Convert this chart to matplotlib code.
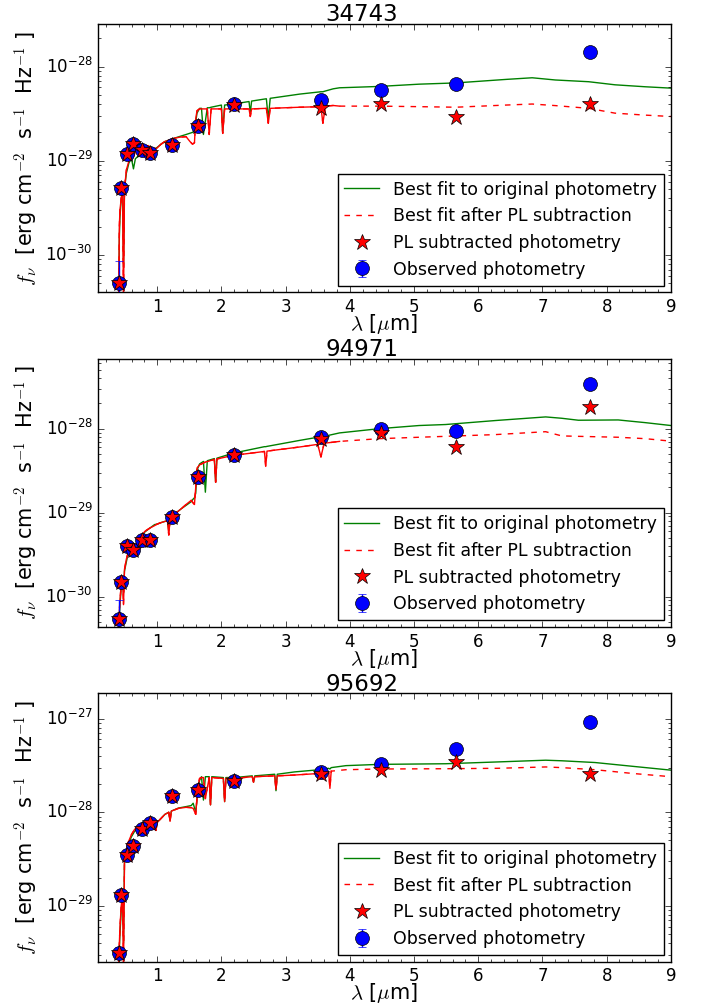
import matplotlib
matplotlib.use("Agg")
import matplotlib.pyplot as plt
import numpy as np
from matplotlib.ticker import MultipleLocator

# photometric band centres [micron]
phot_wl = [0.41, 0.44, 0.53, 0.62, 0.76, 0.89, 1.23, 1.63, 2.20, 3.55, 4.49, 5.66, 7.74]

# ---- 34743 ----
obs_34743 = [5.0e-31, 5.1e-30, 1.17e-29, 1.51e-29, 1.29e-29, 1.2e-29, 1.46e-29, 2.35e-29,
             4.0e-29, 4.4e-29, 5.6e-29, 6.5e-29, 1.41e-28]
err_34743 = [3.7e-31, 0, 0, 0, 0, 0, 0, 0, 0, 0, 0, 0, 0]
sub_34743 = [5.0e-31, 5.1e-30, 1.17e-29, 1.51e-29, 1.29e-29, 1.2e-29, 1.46e-29, 2.35e-29,
             3.9e-29, 3.6e-29, 4.0e-29, 2.9e-29, 4.0e-29]
wl_34743 = [0.38, 0.40, 0.41, 0.42, 0.44, 0.46, 0.475, 0.49, 0.52, 0.56, 0.60, 0.63, 0.66,
            0.72, 0.80, 0.86, 0.92, 0.99, 1.06, 1.12, 1.25, 1.35, 1.45, 1.51, 1.55, 1.58,
            1.60, 1.62, 1.66, 1.69, 1.72, 1.78, 1.81, 1.84, 2.00, 2.02, 2.05, 2.18, 2.43,
            2.45, 2.47, 2.70, 2.73, 2.76, 3.22, 3.55, 3.58, 3.62, 3.74, 3.84, 4.00, 4.46,
            5.08, 5.65, 6.43, 6.84, 7.20, 7.72, 8.13, 8.60, 9.0]
orig_34743 = [2e-31, 3e-31, 1.5e-30, 2.5e-30, 4e-30, 4.5e-30, 7.5e-31, 5e-30, 7.4e-30, 9.5e-30,
              1.05e-29, 8.2e-30, 1.05e-29, 1.15e-29, 1.22e-29, 1.26e-29, 1.3e-29, 1.37e-29,
              1.5e-29, 1.6e-29, 1.72e-29, 1.81e-29, 1.9e-29, 1.96e-29, 2.0e-29, 2.1e-29,
              2.6e-29, 3.2e-29, 3.6e-29, 3.6e-29, 1.9e-29, 3.65e-29, 3.65e-29, 3.7e-29,
              3.9e-29, 2.0e-29, 3.9e-29, 4.0e-29, 4.25e-29, 3.2e-29, 4.3e-29, 4.55e-29,
              2.8e-29, 4.6e-29, 5.1e-29, 5.4e-29, 5.4e-29, 5.5e-29, 5.8e-29, 5.95e-29,
              6.0e-29, 6.15e-29, 6.5e-29, 6.7e-29, 7.3e-29, 7.6e-29, 7.2e-29, 6.9e-29,
              6.4e-29, 6.1e-29, 5.9e-29]
plsub_34743 = [2e-31, 3e-31, 2.0e-30, 3e-30, 4e-30, 5e-30, 3e-31, 5e-30, 8e-30, 1.0e-29,
               1.2e-29, 1.1e-29, 1.25e-29, 1.3e-29, 1.4e-29, 1.45e-29, 1.35e-29, 1.35e-29,
               1.5e-29, 1.6e-29, 1.72e-29, 1.78e-29, 1.8e-29, 1.6e-29, 1.5e-29, 1.55e-29,
               2.8e-29, 3.4e-29, 3.55e-29, 3.55e-29, 3.55e-29, 3.55e-29, 1.9e-29, 3.55e-29,
               3.55e-29, 1.95e-29, 3.55e-29, 3.55e-29, 3.55e-29, 2.95e-29, 3.55e-29, 3.6e-29,
               2.5e-29, 3.6e-29, 3.7e-29, 3.75e-29, 2.5e-29, 3.8e-29, 3.86e-29, 3.8e-29,
               3.8e-29, 3.8e-29, 3.75e-29, 3.7e-29, 3.9e-29, 4.0e-29, 3.85e-29, 3.6e-29,
               3.2e-29, 3.05e-29, 2.95e-29]

# ---- 94971 ----
obs_94971 = [5.4e-31, 1.48e-30, 3.95e-30, 3.6e-30, 4.7e-30, 4.7e-30, 8.9e-30, 2.63e-29,
             4.8e-29, 7.9e-29, 1.0e-28, 9.3e-29, 3.4e-28]
err_94971 = [3.7e-31, 0, 0, 0, 0, 0, 0, 0, 0, 0, 0, 0, 0]
sub_94971 = [5.4e-31, 1.48e-30, 3.95e-30, 3.6e-30, 4.7e-30, 4.7e-30, 8.9e-30, 2.63e-29,
             4.8e-29, 7.5e-29, 8.8e-29, 6.0e-29, 1.8e-28]
wl_94971 = [0.38, 0.40, 0.42, 0.44, 0.46, 0.475, 0.49, 0.52, 0.55, 0.58, 0.60, 0.63, 0.66,
            0.70, 0.76, 0.81, 0.88, 0.96, 1.00, 1.06, 1.12, 1.16, 1.18, 1.20, 1.22, 1.30,
            1.38, 1.45, 1.53, 1.56, 1.58, 1.60, 1.62, 1.66, 1.72, 1.75, 1.78, 1.89, 1.91,
            1.93, 2.18, 2.67, 2.69, 2.71, 3.22, 3.50, 3.55, 3.60, 3.84, 4.46, 5.08, 5.49,
            6.27, 7.05, 7.30, 7.56, 8.18, 8.60, 9.0]
orig_94971 = [2e-31, 4e-31, 8e-31, 1.3e-30, 1.6e-30, 1.1e-30, 2.0e-30, 2.6e-30, 3.3e-30,
              3.5e-30, 3.6e-30, 3.2e-30, 3.9e-30, 4.6e-30, 5.2e-30, 5.9e-30, 6.5e-30,
              7.2e-30, 7.3e-30, 7.6e-30, 7.85e-30, 8.0e-30, 6.0e-30, 8.2e-30, 8.9e-30,
              1.0e-29, 1.12e-29, 1.22e-29, 1.35e-29, 1.45e-29, 1.5e-29, 1.7e-29, 3.2e-29,
              3.8e-29, 4.07e-29, 1.75e-29, 4.15e-29, 4.4e-29, 2.3e-29, 4.45e-29, 5.1e-29,
              6.1e-29, 6.1e-29, 6.15e-29, 7.25e-29, 7.9e-29, 7.95e-29, 8.1e-29, 8.9e-29,
              1.0e-28, 1.09e-28, 1.12e-28, 1.25e-28, 1.38e-28, 1.33e-28, 1.26e-28,
              1.27e-28, 1.18e-28, 1.09e-28]
plsub_94971 = [2e-31, 5e-31, 9e-31, 1.4e-30, 1.7e-30, 8e-31, 2.1e-30, 2.8e-30, 3.4e-30,
               3.6e-30, 3.7e-30, 3.0e-30, 4.0e-30, 4.8e-30, 5.4e-30, 6.0e-30, 6.5e-30,
               7.0e-30, 7.3e-30, 7.6e-30, 7.85e-30, 8.0e-30, 5.4e-30, 8.2e-30, 8.9e-30,
               1.0e-29, 1.12e-29, 1.25e-29, 1.4e-29, 1.3e-29, 1.25e-29, 2.0e-29, 3.4e-29,
               3.7e-29, 3.9e-29, 4.0e-29, 4.05e-29, 4.3e-29, 2.3e-29, 4.35e-29, 4.8e-29,
               5.35e-29, 3.55e-29, 5.4e-29, 6.05e-29, 6.5e-29, 4.6e-29, 6.7e-29, 7.05e-29,
               7.6e-29, 7.9e-29, 8.1e-29, 8.5e-29, 9.2e-29, 8.2e-29, 8.1e-29, 7.9e-29,
               7.6e-29, 7.1e-29]

# ---- 95692 ----
obs_95692 = [3.16e-30, 1.31e-29, 3.46e-29, 4.4e-29, 6.6e-29, 7.7e-29, 1.51e-28, 1.75e-28,
             2.15e-28, 2.68e-28, 3.24e-28, 4.78e-28, 9.3e-28]
err_95692 = [4.5e-31, 0, 0, 0, 0, 0, 0, 0, 0, 0, 0, 0, 0]
sub_95692 = [3.16e-30, 1.31e-29, 3.46e-29, 4.4e-29, 6.6e-29, 7.7e-29, 1.51e-28, 1.75e-28,
             2.15e-28, 2.58e-28, 2.8e-28, 3.45e-28, 2.58e-28]
wl_95692 = [0.38, 0.40, 0.42, 0.44, 0.46, 0.475, 0.49, 0.52, 0.55, 0.60, 0.65, 0.72, 0.81,
            0.90, 0.96, 0.98, 1.00, 1.06, 1.12, 1.18, 1.20, 1.22, 1.33, 1.45, 1.53, 1.56,
            1.60, 1.63, 1.66, 1.69, 1.72, 1.75, 1.81, 1.83, 1.85, 2.03, 2.05, 2.07, 2.21,
            2.48, 2.50, 2.52, 2.83, 2.85, 2.87, 3.14, 3.53, 3.67, 3.69, 3.71, 3.94, 4.46,
            5.49, 6.30, 7.05, 7.30, 7.82, 8.40, 9.0]
orig_95692 = [2e-30, 2.3e-30, 5e-30, 9.1e-30, 1.3e-29, 4e-30, 2.87e-29, 3.8e-29, 4.6e-29,
              5.5e-29, 6.3e-29, 6.8e-29, 7.1e-29, 7.5e-29, 7.7e-29, 6.4e-29, 7.8e-29,
              8.6e-29, 9.5e-29, 1.0e-28, 8.2e-29, 1.03e-28, 1.11e-28, 1.15e-28, 1.18e-28,
              1.25e-28, 1.0e-28, 1.6e-28, 2.2e-28, 2.4e-28, 1.35e-28, 2.4e-28, 2.4e-28,
              1.2e-28, 2.4e-28, 2.35e-28, 1.3e-28, 2.35e-28, 2.35e-28, 2.45e-28, 2.1e-28,
              2.45e-28, 2.55e-28, 1.7e-28, 2.55e-28, 2.7e-28, 2.85e-28, 2.95e-28, 2.9e-28,
              3.0e-28, 3.15e-28, 3.25e-28, 3.3e-28, 3.45e-28, 3.6e-28, 3.55e-28, 3.4e-28,
              3.1e-28, 2.82e-28]
plsub_95692 = [2e-30, 2.5e-30, 6e-30, 1.0e-29, 1.4e-29, 2e-30, 2.9e-29, 3.9e-29, 4.8e-29,
               5.8e-29, 6.6e-29, 7.0e-29, 7.2e-29, 7.5e-29, 7.7e-29, 6.4e-29, 7.8e-29,
               8.6e-29, 9.5e-29, 1.0e-28, 8.0e-29, 1.03e-28, 1.1e-28, 1.13e-28, 1.12e-28,
               1.1e-28, 9.5e-29, 1.8e-28, 2.3e-28, 2.35e-28, 2.35e-28, 1.4e-28, 2.35e-28,
               1.2e-28, 2.35e-28, 2.3e-28, 1.3e-28, 2.3e-28, 2.3e-28, 2.4e-28, 2.1e-28,
               2.4e-28, 2.45e-28, 1.75e-28, 2.45e-28, 2.5e-28, 2.6e-28, 2.7e-28, 1.8e-28,
               2.75e-28, 2.85e-28, 2.9e-28, 2.92e-28, 2.95e-28, 3.05e-28, 3.0e-28, 2.85e-28,
               2.6e-28, 2.4e-28]

sources = ["34743", "94971", "95692"]

plt.style.use("classic")
plt.rcParams["figure.facecolor"] = "white"
plt.rcParams["savefig.facecolor"] = "white"
plt.rcParams["axes.unicode_minus"] = False

fig = plt.figure(figsize=(7.01, 10.05), dpi=100)
boxes = [[0.140, 0.709, 0.817, 0.267],
         [0.140, 0.376, 0.817, 0.267],
         [0.140, 0.043, 0.817, 0.267]]

panels = [
    (wl_34743, orig_34743, plsub_34743, obs_34743, err_34743, sub_34743),
    (wl_94971, orig_94971, plsub_94971, obs_94971, err_94971, sub_94971),
    (wl_95692, orig_95692, plsub_95692, obs_95692, err_95692, sub_95692),
]

for name, box, (wl, orig, plsub, obs, err, sub) in zip(sources, boxes, panels):
    ax = fig.add_axes(box)
    wl = np.array(wl)
    plsub = np.array(plsub)

    l1, = ax.plot(wl, orig, color="green", lw=1)
    l2, = ax.plot(wl, plsub, color="red", lw=1, ls="--", dashes=(4, 4.5))
    # the dense (high resolution) part of the model reads as a solid trace
    hires = wl <= 3.9
    ax.plot(wl[hires], plsub[hires], color="red", lw=1)

    eb = ax.errorbar(phot_wl, obs, yerr=err, fmt="o", color="blue", ecolor="blue",
                     mec="black", ms=10, capsize=3, zorder=4)
    st, = ax.plot(phot_wl, sub, ls="none", marker="*", color="red", mec="black",
                  ms=12, zorder=5)

    ax.set_yscale("log")
    ax.set_xlim(0.08, 9)
    ax.set_ylim(0.8 * min(obs), 2 * max(obs))
    ax.xaxis.set_major_locator(MultipleLocator(1))
    ax.xaxis.set_minor_locator(MultipleLocator(0.2))
    ax.tick_params(labelsize=12)

    ax.set_title(name, fontsize=16.5, pad=2, x=0.46)
    ax.set_xlabel(r"$\lambda$ [$\mu$m]", fontsize=15, labelpad=-3)
    ax.set_ylabel(r"$f_\nu$  [erg cm$^{-2}$  s$^{-1}$  Hz$^{-1}$ ]", fontsize=15,
                  labelpad=3)

    ax.legend([l1, l2, st, eb],
              ["Best fit to original photometry", "Best fit after PL subtraction",
               "PL subtracted photometry", "Observed photometry"],
              loc="lower right", numpoints=1, fontsize=12.5, borderaxespad=0.4)

fig.savefig("out.png", dpi=100)
